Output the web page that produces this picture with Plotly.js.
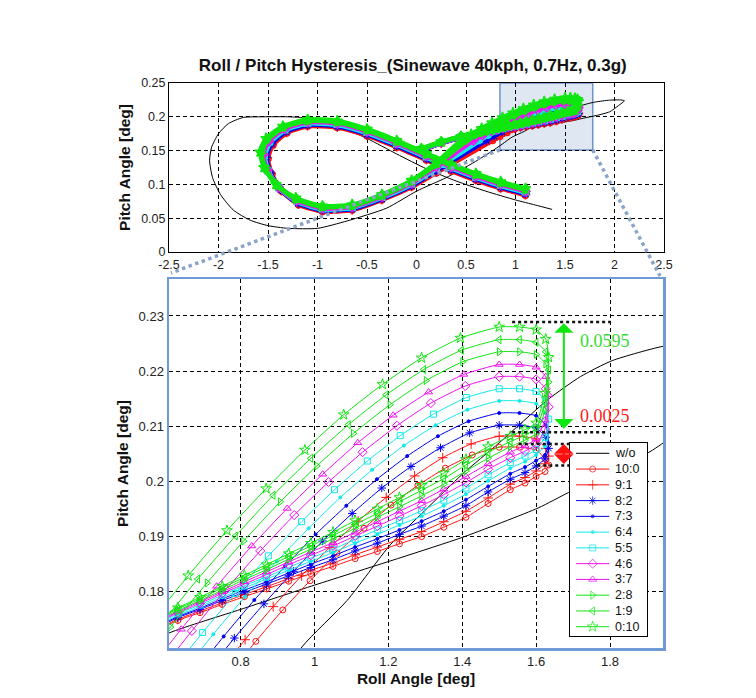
<!DOCTYPE html>
<html><head><meta charset="utf-8">
<script src="https://cdn.plot.ly/plotly-3.0.1.min.js"></script>
<style>html,body{margin:0;padding:0;background:#fff}</style>
</head><body><div id="chart" style="width:756px;height:698px"></div>
<script>
// ---------------- DATA ----------------
const titleText = 'Roll / Pitch Hysteresis_(Sinewave 40kph, 0.7Hz, 0.3g)';
const legendNames = ['w/o','10:0','9:1','8:2','7:3','6:4','5:5','4:6','3:7','2:8','1:9','0:10'];
const topXTicks = [-2.5,-2,-1.5,-1,-0.5,0,0.5,1,1.5,2,2.5];
const topYTicks = [0,0.05,0.1,0.15,0.2,0.25];
const botXTicks = [0.8,1,1.2,1.4,1.6,1.8];
const botYTicks = [0.18,0.19,0.2,0.21,0.22,0.23];

// w/o (black)
const wo_x = [1.37,1.2,1.0,0.7,0.4,0.1,-0.2,-0.5,-0.8,-1.1,-1.3,-1.55,-1.75,-1.9,-2.0,-2.07,-2.09,-2.06,-1.98,-1.85,-1.68,-1.5,-1.3,-1.0,-0.7,-0.3,0.0,0.3,0.55,0.75,0.87,0.966,1.088,1.205,1.3,1.4,1.5,1.633,1.72,1.806,1.951,2.05,2.1,2.04,1.951,1.815,1.688,1.606,1.402,1.234,1.0,0.8,0.605,0.3,0.0];
const wo_y = [0.063,0.0695,0.077,0.09,0.105,0.123,0.145,0.168,0.187,0.198,0.2,0.2,0.199,0.19,0.175,0.155,0.135,0.11,0.085,0.062,0.047,0.039,0.035,0.035,0.046,0.065,0.09,0.11,0.13,0.148,0.16,0.17,0.1784,0.1885,0.1948,0.2013,0.207,0.2149,0.219,0.2219,0.2246,0.225,0.2238,0.2165,0.2074,0.2019,0.198,0.1952,0.1899,0.1862,0.1812,0.1768,0.1725,0.163,0.152];

// shared sampling of tip and return branch
const tipX = [1.555,1.600,1.626,1.634,1.624,1.600,1.570];
const shallowX = [1.53,1.47,1.41,1.35,1.29,1.23,1.17,1.11,1.05,0.99,0.93,0.87,0.81,0.75,0.69,0.63,0.45,0.25,0.05];

// 10:0
const loopX_10_0 = [1.10,0.85,0.60,0.35,0.10,-0.20,-0.50,-0.80,-1.10,-1.310,-1.450,-1.500,-1.460,-1.360,-1.190,-0.95,-0.65,-0.35,-0.05,0.20];
const loopY_10_0 = [0.084,0.094,0.106,0.120,0.136,0.155,0.172,0.184,0.186,0.176,0.158,0.138,0.115,0.090,0.070,0.060,0.062,0.077,0.096,0.117];
const steepX_10_0 = [0.768,0.841,0.914,0.988,1.061,1.134,1.207,1.280,1.354,1.427,1.500];
const steepY_10_0 = [0.165,0.1710,0.1767,0.1820,0.1870,0.1915,0.1957,0.1993,0.2024,0.2048,0.2062];
const tipY_10_0 = [0.2062,0.2057,0.2040,0.2030,0.2018,0.2009,0.1997];
const shallowY_10_0 = [0.1985,0.1960,0.1935,0.1917,0.1900,0.1887,0.1873,0.1860,0.1846,0.1833,0.1819,0.1805,0.1791,0.1777,0.1762,0.1748,0.1690,0.1610,0.1500];
// 9:1
const loopX_9_1 = [1.10,0.85,0.60,0.35,0.10,-0.20,-0.50,-0.80,-1.10,-1.314,-1.457,-1.508,-1.468,-1.366,-1.193,-0.95,-0.65,-0.35,-0.05,0.20];
const loopY_9_1 = [0.085,0.095,0.107,0.121,0.137,0.156,0.173,0.185,0.187,0.177,0.159,0.139,0.116,0.091,0.071,0.0608,0.0628,0.0778,0.097,0.1185];
const steepX_9_1 = [0.736,0.812,0.888,0.965,1.041,1.118,1.194,1.271,1.347,1.424,1.500];
const steepY_9_1 = [0.165,0.1713,0.1773,0.1829,0.1880,0.1928,0.1971,0.2010,0.2043,0.2068,0.2082];
const tipY_9_1 = [0.2082,0.2077,0.2060,0.2046,0.2032,0.2019,0.2007];
const shallowY_9_1 = [0.1995,0.1970,0.1946,0.1927,0.1909,0.1895,0.1881,0.1867,0.1852,0.1839,0.1824,0.1809,0.1795,0.1780,0.1765,0.1750,0.1692,0.1612,0.1503];
// 8:2
const loopX_8_2 = [1.10,0.85,0.60,0.35,0.10,-0.20,-0.50,-0.80,-1.10,-1.318,-1.464,-1.516,-1.476,-1.372,-1.196,-0.95,-0.65,-0.35,-0.05,0.20];
const loopY_8_2 = [0.086,0.096,0.108,0.122,0.138,0.157,0.174,0.186,0.188,0.178,0.160,0.140,0.117,0.092,0.072,0.0616,0.0636,0.0786,0.098,0.120];
const steepX_8_2 = [0.704,0.783,0.863,0.943,1.022,1.102,1.182,1.261,1.341,1.420,1.500];
const steepY_8_2 = [0.165,0.1716,0.1778,0.1837,0.1892,0.1942,0.1988,0.2027,0.2061,0.2088,0.2102];
const tipY_8_2 = [0.2102,0.2097,0.2080,0.2060,0.2041,0.2028,0.2016];
const shallowY_8_2 = [0.2004,0.1981,0.1956,0.1937,0.1919,0.1904,0.1888,0.1874,0.1858,0.1844,0.1829,0.1814,0.1799,0.1784,0.1768,0.1753,0.1694,0.1614,0.1506];
// 7:3
const loopX_7_3 = [1.10,0.85,0.60,0.35,0.10,-0.20,-0.50,-0.80,-1.10,-1.322,-1.471,-1.524,-1.484,-1.378,-1.199,-0.95,-0.65,-0.35,-0.05,0.20];
const loopY_7_3 = [0.087,0.097,0.109,0.123,0.139,0.158,0.175,0.187,0.189,0.179,0.161,0.141,0.118,0.093,0.073,0.0624,0.0644,0.0794,0.099,0.1215];
const steepX_7_3 = [0.672,0.754,0.837,0.920,1.003,1.086,1.169,1.251,1.334,1.417,1.500];
const steepY_7_3 = [0.165,0.1719,0.1785,0.1846,0.1904,0.1956,0.2004,0.2046,0.2082,0.2109,0.2124];
const tipY_7_3 = [0.2124,0.2119,0.2102,0.2069,0.2048,0.2038,0.2026];
const shallowY_7_3 = [0.2014,0.1991,0.1967,0.1946,0.1928,0.1912,0.1896,0.1881,0.1865,0.1850,0.1834,0.1818,0.1803,0.1787,0.1770,0.1755,0.1696,0.1616,0.1509];
// 6:4
const loopX_6_4 = [1.10,0.85,0.60,0.35,0.10,-0.20,-0.50,-0.80,-1.10,-1.326,-1.478,-1.532,-1.492,-1.384,-1.202,-0.95,-0.65,-0.35,-0.05,0.20];
const loopY_6_4 = [0.088,0.098,0.110,0.124,0.140,0.159,0.176,0.188,0.190,0.180,0.162,0.142,0.119,0.094,0.074,0.0632,0.0652,0.0802,0.100,0.123];
const steepX_6_4 = [0.640,0.726,0.812,0.898,0.984,1.070,1.156,1.242,1.328,1.414,1.500];
const steepY_6_4 = [0.165,0.1723,0.1791,0.1855,0.1915,0.1971,0.2021,0.2065,0.2102,0.2130,0.2146];
const tipY_6_4 = [0.2146,0.2141,0.2124,0.2091,0.2064,0.2048,0.2036];
const shallowY_6_4 = [0.2024,0.2001,0.1977,0.1956,0.1937,0.1921,0.1904,0.1888,0.1871,0.1855,0.1839,0.1823,0.1807,0.1790,0.1773,0.1757,0.1698,0.1618,0.1512];
// 5:5
const loopX_5_5 = [1.10,0.85,0.60,0.35,0.10,-0.20,-0.50,-0.80,-1.10,-1.330,-1.485,-1.540,-1.500,-1.390,-1.205,-0.95,-0.65,-0.35,-0.05,0.20];
const loopY_5_5 = [0.089,0.099,0.111,0.125,0.141,0.160,0.177,0.189,0.191,0.181,0.163,0.143,0.120,0.095,0.075,0.064,0.066,0.081,0.101,0.1245];
const steepX_5_5 = [0.608,0.697,0.786,0.875,0.965,1.054,1.143,1.232,1.322,1.411,1.500];
const steepY_5_5 = [0.165,0.1726,0.1797,0.1865,0.1927,0.1985,0.2037,0.2083,0.2122,0.2152,0.2168];
const tipY_5_5 = [0.2168,0.2163,0.2146,0.2113,0.2080,0.2058,0.2046];
const shallowY_5_5 = [0.2034,0.2012,0.1988,0.1966,0.1947,0.1929,0.1912,0.1895,0.1877,0.1861,0.1844,0.1827,0.1811,0.1794,0.1776,0.1760,0.1700,0.1620,0.1515];
// 4:6
const loopX_4_6 = [1.10,0.85,0.60,0.35,0.10,-0.20,-0.50,-0.80,-1.10,-1.334,-1.492,-1.548,-1.508,-1.396,-1.208,-0.95,-0.65,-0.35,-0.05,0.20];
const loopY_4_6 = [0.090,0.100,0.112,0.126,0.142,0.161,0.178,0.190,0.192,0.182,0.164,0.144,0.121,0.096,0.076,0.0648,0.0668,0.0818,0.102,0.126];
const steepX_4_6 = [0.576,0.668,0.760,0.853,0.945,1.038,1.130,1.223,1.315,1.408,1.500];
const steepY_4_6 = [0.165,0.1729,0.1804,0.1874,0.1939,0.1999,0.2053,0.2101,0.2142,0.2173,0.2190];
const tipY_4_6 = [0.2190,0.2185,0.2168,0.2135,0.2095,0.2067,0.2055];
const shallowY_4_6 = [0.2043,0.2022,0.1998,0.1976,0.1956,0.1937,0.1919,0.1901,0.1883,0.1866,0.1849,0.1831,0.1814,0.1797,0.1779,0.1762,0.1702,0.1622,0.1518];
// 3:7
const loopX_3_7 = [1.10,0.85,0.60,0.35,0.10,-0.20,-0.50,-0.80,-1.10,-1.338,-1.499,-1.556,-1.516,-1.402,-1.211,-0.95,-0.65,-0.35,-0.05,0.20];
const loopY_3_7 = [0.091,0.101,0.113,0.127,0.143,0.162,0.179,0.191,0.193,0.183,0.165,0.145,0.122,0.097,0.077,0.0656,0.0676,0.0826,0.103,0.1275];
const steepX_3_7 = [0.544,0.639,0.735,0.830,0.926,1.022,1.117,1.213,1.309,1.404,1.500];
const steepY_3_7 = [0.165,0.1732,0.1810,0.1883,0.1951,0.2013,0.2070,0.2120,0.2162,0.2194,0.2212];
const tipY_3_7 = [0.2212,0.2207,0.2190,0.2157,0.2111,0.2077,0.2065];
const shallowY_3_7 = [0.2053,0.2032,0.2009,0.1986,0.1965,0.1946,0.1927,0.1908,0.1889,0.1872,0.1854,0.1836,0.1818,0.1800,0.1782,0.1764,0.1704,0.1624,0.1521];
// 2:8
const loopX_2_8 = [1.10,0.85,0.60,0.35,0.10,-0.20,-0.50,-0.80,-1.10,-1.342,-1.506,-1.564,-1.524,-1.408,-1.214,-0.95,-0.65,-0.35,-0.05,0.20];
const loopY_2_8 = [0.092,0.102,0.114,0.128,0.144,0.163,0.180,0.192,0.194,0.184,0.166,0.146,0.123,0.098,0.078,0.0664,0.0684,0.0834,0.104,0.129];
const steepX_2_8 = [0.512,0.610,0.709,0.808,0.907,1.006,1.105,1.204,1.302,1.401,1.500];
const steepY_2_8 = [0.165,0.1736,0.1816,0.1892,0.1963,0.2028,0.2087,0.2139,0.2183,0.2217,0.2235];
const tipY_2_8 = [0.2235,0.2230,0.2213,0.2180,0.2128,0.2087,0.2075];
const shallowY_2_8 = [0.2063,0.2042,0.2019,0.1995,0.1974,0.1954,0.1935,0.1915,0.1896,0.1877,0.1859,0.1840,0.1822,0.1803,0.1784,0.1766,0.1706,0.1626,0.1524];
// 1:9
const loopX_1_9 = [1.10,0.85,0.60,0.35,0.10,-0.20,-0.50,-0.80,-1.10,-1.346,-1.513,-1.572,-1.532,-1.414,-1.217,-0.95,-0.65,-0.35,-0.05,0.20];
const loopY_1_9 = [0.093,0.103,0.115,0.129,0.145,0.164,0.181,0.193,0.195,0.185,0.167,0.147,0.124,0.099,0.079,0.0672,0.0692,0.0842,0.105,0.1305];
const steepX_1_9 = [0.480,0.582,0.684,0.786,0.888,0.990,1.092,1.194,1.296,1.398,1.500];
const steepY_1_9 = [0.165,0.1739,0.1823,0.1901,0.1975,0.2042,0.2103,0.2157,0.2203,0.2238,0.2257];
const tipY_1_9 = [0.2257,0.2252,0.2235,0.2202,0.2143,0.2096,0.2084];
const shallowY_1_9 = [0.2072,0.2053,0.2030,0.2005,0.1984,0.1963,0.1942,0.1922,0.1902,0.1883,0.1864,0.1845,0.1826,0.1807,0.1787,0.1769,0.1708,0.1628,0.1527];
// 0:10
const loopX_0_10 = [1.10,0.85,0.60,0.35,0.10,-0.20,-0.50,-0.80,-1.10,-1.35,-1.52,-1.58,-1.54,-1.42,-1.22,-0.95,-0.65,-0.35,-0.05,0.20];
const loopY_0_10 = [0.094,0.104,0.116,0.130,0.146,0.165,0.182,0.194,0.196,0.186,0.168,0.148,0.125,0.100,0.080,0.068,0.070,0.085,0.106,0.132];
const steepX_0_10 = [0.448,0.553,0.658,0.763,0.869,0.974,1.079,1.184,1.290,1.395,1.500];
const steepY_0_10 = [0.165,0.1742,0.1829,0.1911,0.1987,0.2057,0.2121,0.2176,0.2224,0.2260,0.2280];
const tipY_0_10 = [0.2280,0.2275,0.2258,0.2225,0.2160,0.2106,0.2094];
const shallowY_0_10 = [0.2082,0.2063,0.2040,0.2015,0.1993,0.1971,0.1950,0.1929,0.1908,0.1888,0.1869,0.1849,0.1830,0.1810,0.1790,0.1771,0.1710,0.1630,0.1530];

// annotation values
const zoomBox = {x0:0.843, x1:1.78, y0:0.151, y1:0.25};
const spreadGreen = {x:1.675, yTop:0.2287, yBot:0.2093, label:'0.0595', lx:1.712, ly:0.2255};
const spreadRed = {x:1.675, yTop:0.2068, yBot:0.2029, label:'0.0025', lx:1.712, ly:0.2119};
const dotLines = [[1.535,1.802,0.2289],[1.535,1.793,0.2089],[1.553,1.689,0.2068],[1.603,1.689,0.2029]];

// ---------------- BUILD ----------------
const FONT = 'Liberation Sans, Arial, sans-serif';
const RED='#ff1010', BLUE='#0000f0', CYAN='#10eaea', MAG='#f010f0', GRN='#10e610';
const S = [
 {n:'10:0', c:RED, sym:'circle-open', sz:6, lx:loopX_10_0, ly:loopY_10_0, sx:steepX_10_0, sy:steepY_10_0, ty:tipY_10_0, hy:shallowY_10_0},
 {n:'9:1', c:RED, sym:'cross-thin-open', sz:7, lx:loopX_9_1, ly:loopY_9_1, sx:steepX_9_1, sy:steepY_9_1, ty:tipY_9_1, hy:shallowY_9_1},
 {n:'8:2', c:BLUE, sym:'asterisk-open', sz:7, lx:loopX_8_2, ly:loopY_8_2, sx:steepX_8_2, sy:steepY_8_2, ty:tipY_8_2, hy:shallowY_8_2},
 {n:'7:3', c:BLUE, sym:'circle', sz:3, lx:loopX_7_3, ly:loopY_7_3, sx:steepX_7_3, sy:steepY_7_3, ty:tipY_7_3, hy:shallowY_7_3},
 {n:'6:4', c:CYAN, sym:'circle', sz:3, lx:loopX_6_4, ly:loopY_6_4, sx:steepX_6_4, sy:steepY_6_4, ty:tipY_6_4, hy:shallowY_6_4},
 {n:'5:5', c:CYAN, sym:'square-open', sz:6, lx:loopX_5_5, ly:loopY_5_5, sx:steepX_5_5, sy:steepY_5_5, ty:tipY_5_5, hy:shallowY_5_5},
 {n:'4:6', c:MAG, sym:'diamond-open', sz:7, lx:loopX_4_6, ly:loopY_4_6, sx:steepX_4_6, sy:steepY_4_6, ty:tipY_4_6, hy:shallowY_4_6},
 {n:'3:7', c:MAG, sym:'triangle-up-open', sz:7, lx:loopX_3_7, ly:loopY_3_7, sx:steepX_3_7, sy:steepY_3_7, ty:tipY_3_7, hy:shallowY_3_7},
 {n:'2:8', c:GRN, sym:'triangle-right-open', sz:7, lx:loopX_2_8, ly:loopY_2_8, sx:steepX_2_8, sy:steepY_2_8, ty:tipY_2_8, hy:shallowY_2_8},
 {n:'1:9', c:GRN, sym:'triangle-left-open', sz:7, lx:loopX_1_9, ly:loopY_1_9, sx:steepX_1_9, sy:steepY_1_9, ty:tipY_1_9, hy:shallowY_1_9},
 {n:'0:10', c:GRN, sym:'star-open', sz:8, lx:loopX_0_10, ly:loopY_0_10, sx:steepX_0_10, sy:steepY_0_10, ty:tipY_0_10, hy:shallowY_0_10}
];

const traces = [];
traces.push({x:wo_x, y:wo_y, xaxis:'x', yaxis:'y', mode:'lines', line:{color:'#000', width:1, shape:'spline', smoothing:0.6}, hoverinfo:'skip'});
traces.push({x:wo_x, y:wo_y, xaxis:'x2', yaxis:'y2', mode:'lines', line:{color:'#000', width:1, shape:'spline', smoothing:0.6}, hoverinfo:'skip'});
S.forEach(s => {
  const X = [].concat(s.lx, s.sx, tipX, shallowX);
  const Y = [].concat(s.ly, s.sy, s.ty, s.hy);
  traces.push({x:X, y:Y, xaxis:'x', yaxis:'y', mode:'lines+markers', name:s.n,
    line:{color:s.c, width:4.5, shape:'spline', smoothing:0.6},
    marker:{symbol:s.sym, size:Math.max(5, s.sz), color:s.c, line:{color:s.c, width:1.5}}, hoverinfo:'skip'});
});
S.forEach(s => {
  const X = [].concat(s.lx, s.sx, tipX, shallowX);
  const Y = [].concat(s.ly, s.sy, s.ty, s.hy);
  traces.push({x:X, y:Y, xaxis:'x2', yaxis:'y2', mode:'lines+markers', name:s.n,
    line:{color:s.c, width:1, shape:'spline', smoothing:0.5},
    marker:{symbol:s.sym, size:s.sz, color:s.c, line:{color:s.c, width:1}}, hoverinfo:'skip'});
});

// custom legend (own small axis)
const LTOP = -0.654, LBOT = 11.59;
traces.push({x:[0,1,1,0,0], y:[LTOP,LTOP,LBOT,LBOT,LTOP], xaxis:'x3', yaxis:'y3', mode:'lines', fill:'toself',
  fillcolor:'#fff', line:{width:0, color:'#fff'}, hoverinfo:'skip'});
const legAnn = [];
legendNames.forEach((nm, i) => {
  const s = i === 0 ? null : S[i-1];
  const tr = {x:[0.078,0.294,0.51], y:[i,i,i], xaxis:'x3', yaxis:'y3', mode: s ? 'lines+markers' : 'lines',
    line:{color: s ? s.c : '#000', width:1}, hoverinfo:'skip'};
  if (s) tr.marker = {symbol:s.sym, size:[0, s.sz, 0], color:s.c, line:{color:s.c, width:1}};
  traces.push(tr);
  legAnn.push({xref:'x3', yref:'y3', x:0.555, y:i, text:nm, showarrow:false, xanchor:'left', yanchor:'middle',
    font:{family:FONT, size:12.5, color:'#111'}});
});

// geometry helpers (paper)
const L=169, R=92, T=83, B=50, W=756, H=698;
const PW = W-L-R, PH = H-T-B;
const topDom = [(648-252)/PH, 1];
const botDom = [0, (648-279)/PH];
const px2x = p => (p-L)/PW, py2y = p => (648-p)/PH;
const topXr = [-2.5, 2.5], topYr = [0, 0.25];
const dx2p = v => (v-topXr[0])/(topXr[1]-topXr[0]);
const dy2p = v => topDom[0] + (v-topYr[0])/(topYr[1]-topYr[0])*(topDom[1]-topDom[0]);

const shapes = [
  {type:'rect', xref:'x', yref:'y', x0:zoomBox.x0, x1:zoomBox.x1, y0:zoomBox.y0, y1:zoomBox.y1,
   fillcolor:'rgba(110,145,200,0.22)', line:{color:'#6f93cc', width:1.5}, layer:'below'},
  {type:'line', xref:'paper', yref:'paper', x0:dx2p(zoomBox.x0), y0:dy2p(zoomBox.y0), x1:px2x(171), y1:py2y(273),
   line:{color:'#8aa3c9', width:3.5, dash:'dot'}},
  {type:'line', xref:'paper', yref:'paper', x0:dx2p(zoomBox.x1), y0:dy2p(zoomBox.y0), x1:px2x(660), y1:py2y(276),
   line:{color:'#8aa3c9', width:3.5, dash:'dot'}}
];
dotLines.forEach(d => shapes.push({type:'line', xref:'x2', yref:'y2', x0:d[0], x1:d[1], y0:d[2], y1:d[2],
  line:{color:'#111', width:2.5, dash:'dot'}}));

const annotations = [
  {xref:'x2', yref:'y2', axref:'x2', ayref:'y2', x:spreadGreen.x, y:spreadGreen.yTop, ax:spreadGreen.x, ay:spreadGreen.yBot,
   text:'', showarrow:true, arrowside:'end+start', arrowhead:1, arrowsize:1.6, arrowwidth:2, arrowcolor:GRN, standoff:0, startstandoff:0},
  {xref:'x2', yref:'y2', axref:'x2', ayref:'y2', x:spreadRed.x, y:spreadRed.yTop, ax:spreadRed.x, ay:spreadRed.yBot,
   text:'', showarrow:true, arrowside:'end+start', arrowhead:1, arrowsize:1.3, arrowwidth:2.5, arrowcolor:RED, standoff:0, startstandoff:0},
  {xref:'x2', yref:'y2', x:spreadGreen.lx, y:spreadGreen.ly, text:spreadGreen.label, showarrow:false, xanchor:'left',
   font:{family:'Liberation Serif, Times New Roman, serif', size:18, color:'#33dd33'}},
  {xref:'x2', yref:'y2', x:spreadRed.lx, y:spreadRed.ly, text:spreadRed.label, showarrow:false, xanchor:'left',
   font:{family:'Liberation Serif, Times New Roman, serif', size:18, color:'#ff1a1a'}}
].concat(legAnn);

const gridCommon = {showgrid:true, gridcolor:'#000', gridwidth:1, griddash:'4px,3px', zeroline:false,
  ticks:'', tickfont:{family:FONT, size:13, color:'#222'}, fixedrange:true};
const axTitleFont = {family:FONT, size:15.5, color:'#111', weight:'bold'};

const layout = {
  width:W, height:H, margin:{l:L, r:R, t:T, b:B}, paper_bgcolor:'#fff', plot_bgcolor:'#fff', showlegend:false,
  title:{text:titleText, font:{family:FONT, size:17, color:'#111', weight:'bold'}, x:0.546, xanchor:'center', y:1-65/698, yanchor:'middle', yref:'container'},
  xaxis:Object.assign({}, gridCommon, {domain:[0,1], range:topXr, tickvals:topXTicks, ticktext:topXTicks.map(String),
    tickfont:{family:FONT, size:12.5, color:'#222'}, ticklabelstandoff:1,
    showline:true, mirror:true, linecolor:'#000', linewidth:1, anchor:'y'}),
  yaxis:Object.assign({}, gridCommon, {domain:topDom, range:topYr, tickvals:topYTicks, ticktext:topYTicks.map(String),
    tickfont:{family:FONT, size:12.5, color:'#222'},
    showline:true, mirror:true, linecolor:'#000', linewidth:1, anchor:'x',
    title:{text:'Pitch Angle [deg]', font:axTitleFont, standoff:6}}),
  xaxis2:Object.assign({}, gridCommon, {domain:[0,0.998], range:[0.606,1.9435], tickvals:botXTicks, ticktext:botXTicks.map(String),
    showline:true, mirror:true, linecolor:'#6f99d6', linewidth:2.5, anchor:'y2',
    title:{text:'Roll Angle [deg]', font:axTitleFont, standoff:5}}),
  yaxis2:Object.assign({}, gridCommon, {domain:botDom, range:[0.1698,0.2367], tickvals:botYTicks, ticktext:botYTicks.map(String),
    showline:true, mirror:true, linecolor:'#6f99d6', linewidth:2.5, anchor:'x2',
    title:{text:'Pitch Angle [deg]', font:axTitleFont, standoff:6}}),
  xaxis3:{domain:[px2x(570), px2x(647)], range:[0,1], anchor:'y3', showgrid:false, zeroline:false, showticklabels:false, ticks:'',
    showline:true, mirror:true, linecolor:'#000', linewidth:1, fixedrange:true},
  yaxis3:{domain:[py2y(636), py2y(443)], range:[LBOT, LTOP], anchor:'x3', showgrid:false, zeroline:false, showticklabels:false, ticks:'',
    showline:true, mirror:true, linecolor:'#000', linewidth:1, fixedrange:true},
  shapes:shapes, annotations:annotations
};

Plotly.newPlot('chart', traces, layout, {displayModeBar:false, staticPlot:true});
</script>
</body></html>
